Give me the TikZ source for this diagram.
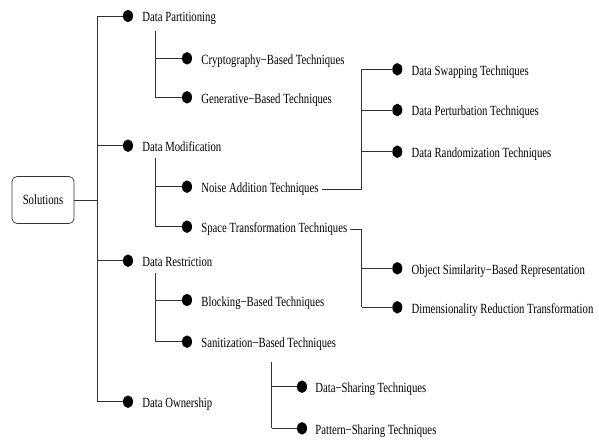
\documentclass[tikz,border=0pt]{standalone}
\usepackage{fontspec}
\setmainfont{Liberation Serif}[FakeStretch=0.765]
\usetikzlibrary{shapes.geometric}
\newcommand{\dsh}{\char"2212\relax}

\begin{document}
\begin{tikzpicture}[x = 1pt, y = -1pt, font = \fontsize{14}{16}\selectfont,
	dot/.style = {ellipse, fill = black, inner sep = 0pt, minimum width = 10pt, minimum height = 12.5pt},
	lbl/.style = {anchor = base west, inner sep = 0pt},
	wire/.style = {draw = black!80, line width = 0.7pt}]
	\useasboundingbox (0,0) rectangle (599,441);

	% root
	\node[wire, rounded corners = 5pt, minimum width = 62pt, minimum height = 47pt] (SOL) at (43,200) {Solutions};

	% first level
	\node[dot] (DP) at (128,16) {};
	\node[dot] (DM) at (128,145.7) {};
	\node[dot] (DR) at (128,260.7) {};
	\node[dot] (DO) at (128,401.7) {};
	\node[lbl] (DPt) at ([xshift = 9pt, yshift = -6pt]DP.east) {Data Partitioning};
	\node[lbl] (DMt) at ([xshift = 9pt, yshift = -6pt]DM.east) {Data Modification};
	\node[lbl] (DRt) at ([xshift = 9pt, yshift = -6pt]DR.east) {Data Restriction};
	\node[lbl] (DOt) at ([xshift = 9pt, yshift = -6pt]DO.east) {Data Ownership};

	% second level
	\node[dot] (CB) at (187,58.3) {};
	\node[dot] (GB) at (187,97.3) {};
	\node[dot] (NA) at (187,186.7) {};
	\node[dot] (ST) at (187,226.7) {};
	\node[dot] (BB) at (187,300) {};
	\node[dot] (SB) at (187,341.7) {};
	\node[lbl] (CBt) at ([xshift = 9pt, yshift = -6pt]CB.east) {Cryptography\dsh Based Techniques};
	\node[lbl] (GBt) at ([xshift = 9pt, yshift = -6pt]GB.east) {Generative\dsh Based Techniques};
	\node[lbl] (NAt) at ([xshift = 9pt, yshift = -6pt]NA.east) {Noise Addition Techniques};
	\node[lbl] (STt) at ([xshift = 9pt, yshift = -6pt]ST.east) {Space Transformation Techniques};
	\node[lbl] (BBt) at ([xshift = 9pt, yshift = -6pt]BB.east) {Blocking\dsh Based Techniques};
	\node[lbl] (SBt) at ([xshift = 9pt, yshift = -6pt]SB.east) {Sanitization\dsh Based Techniques};

	% third level
	\node[dot] (DS) at (397.3,69.3) {};
	\node[dot] (DPe) at (397.3,110) {};
	\node[dot] (DRa) at (397.3,151.7) {};
	\node[dot] (OS) at (397.3,268.3) {};
	\node[dot] (DRT) at (397.3,307.3) {};
	\node[dot] (DSh) at (302,386.7) {};
	\node[dot] (PS) at (302,428.3) {};
	\node[lbl] (DSt) at ([xshift = 9pt, yshift = -6pt]DS.east) {Data Swapping Techniques};
	\node[lbl] (DPet) at ([xshift = 9pt, yshift = -6pt]DPe.east) {Data Perturbation Techniques};
	\node[lbl] (DRat) at ([xshift = 9pt, yshift = -6pt]DRa.east) {Data Randomization Techniques};
	\node[lbl] (OSt) at ([xshift = 9pt, yshift = -6pt]OS.east) {Object Similarity\dsh Based Representation};
	\node[lbl] (DRTt) at ([xshift = 9pt, yshift = -6pt]DRT.east) {Dimensionality Reduction Transformation};
	\node[lbl] (DSht) at ([xshift = 8pt, yshift = -6pt]DSh.east) {Data\dsh Sharing Techniques};
	\node[lbl] (PSt) at ([xshift = 8pt, yshift = -6pt]PS.east) {Pattern\dsh Sharing Techniques};

	% branch points
	\coordinate (trunk) at (97,0);
	\coordinate (sub) at (155,0);
	\coordinate (far) at (361.7,0);
	\coordinate (san) at (271.7,361.7);

	% connectors
	\draw[wire] (SOL.east) -- (SOL.east -| trunk);
	\draw[wire] (DP.west -| trunk) -- (DO.west -| trunk);
	\foreach \n in {DP, DM, DR, DO}
		\draw[wire] (\n.west -| trunk) -- (\n.west);
	\draw[wire] ([yshift = -6pt]DPt.south -| sub) -- (GB.west -| sub);
	\draw[wire] ([yshift = -6pt]DMt.south -| sub) -- (ST.west -| sub);
	\draw[wire] ([yshift = -6pt]DRt.south -| sub) -- (SB.west -| sub);
	\foreach \n in {CB, GB, NA, ST, BB, SB}
		\draw[wire] (\n.west -| sub) -- (\n.west);
	\draw[wire] ([xshift = 3pt]NAt.east) -- (NAt.east -| far) -- (DS.west -| far);
	\draw[wire] ([xshift = 3pt]STt.east) -- (STt.east -| far) -- (DRT.west -| far);
	\foreach \n in {DS, DPe, DRa, OS, DRT}
		\draw[wire] (\n.west -| far) -- (\n.west);
	\draw[wire] (san) -- (PS.west -| san);
	\foreach \n in {DSh, PS}
		\draw[wire] (\n.west -| san) -- (\n.west);
\end{tikzpicture}
\end{document}
